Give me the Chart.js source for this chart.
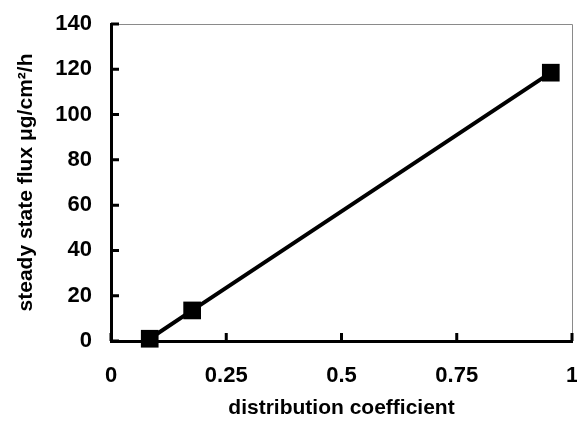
<!DOCTYPE html>
<html>
<head>
<meta charset="utf-8">
<script src="https://cdn.jsdelivr.net/npm/chart.js@4"></script>
<style>
  html, body { margin: 0; padding: 0; background: #fff; }
  #wrap { width: 577px; height: 426px; position: relative; }
</style>
</head>
<body>
<div id="wrap"><canvas id="myChart" width="577" height="426"></canvas></div>
<script>
// data
const distCoef = [0.084, 0.176, 0.954];
const fluxValues = [1, 13.5, 118.5];
const xTicks = [0, 0.25, 0.5, 0.75, 1];
const yTicks = [0, 20, 40, 60, 80, 100, 120, 140];

const points = distCoef.map((x, i) => ({ x: x, y: fluxValues[i] }));
const font = { family: "'Liberation Sans', Arial, sans-serif", size: 21, weight: 'bold' };
const tickFont = { family: "'Liberation Sans', Arial, sans-serif", size: 22, weight: 'bold' };

// ticks drawn inward plus thin frame on top and right
const frame = {
  id: 'frame',
  beforeDatasetsDraw(chart) {
    const { ctx, chartArea: a, scales } = chart;
    ctx.save();
    ctx.strokeStyle = '#8a8a8a';
    ctx.lineWidth = 1;
    ctx.beginPath();
    ctx.moveTo(a.left, a.top + 0.5);
    ctx.lineTo(a.right + 0.5, a.top + 0.5);
    ctx.lineTo(a.right + 0.5, a.bottom);
    ctx.stroke();

    ctx.strokeStyle = '#000';
    ctx.lineWidth = 3;
    ctx.beginPath();
    yTicks.forEach(v => {
      const y = scales.y.getPixelForValue(v);
      ctx.moveTo(a.left, y);
      ctx.lineTo(a.left + 8, y);
    });
    xTicks.forEach(v => {
      const x = scales.x.getPixelForValue(v);
      ctx.moveTo(x, a.bottom);
      ctx.lineTo(x, a.bottom - 8);
    });
    ctx.stroke();
    ctx.restore();
  }
};

new Chart(document.getElementById('myChart'), {
  type: 'scatter',
  data: {
    datasets: [{
      data: points,
      showLine: true,
      borderColor: '#000',
      backgroundColor: '#000',
      borderWidth: 4,
      pointStyle: 'rect',
      pointRadius: 12.5,
      pointHoverRadius: 12.5,
      pointBorderWidth: 0,
      tension: 0,
      clip: false
    }]
  },
  options: {
    responsive: false,
    animation: false,
    layout: { autoPadding: false, padding: { left: 0, right: 5, top: 24, bottom: 0 } },
    plugins: { legend: { display: false }, tooltip: { enabled: false } },
    scales: {
      x: {
        type: 'linear',
        min: 0,
        max: 1,
        afterBuildTicks: s => { s.ticks = xTicks.map(v => ({ value: v })); },
        afterFit: s => { s.height = 85; s.paddingLeft = 0; s.paddingRight = 0; },
        grid: { display: false, drawTicks: false },
        border: { display: true, color: '#000', width: 3 },
        ticks: { color: '#000', font: tickFont, padding: 22, maxRotation: 0,
                 callback: v => String(v) },
        title: { display: true, text: 'distribution coefficient', color: '#000',
                 font: font, padding: { top: 0, bottom: 5 } }
      },
      y: {
        type: 'linear',
        min: 0,
        max: 140,
        afterBuildTicks: s => { s.ticks = yTicks.map(v => ({ value: v })); },
        afterFit: s => { s.width = 111; s.paddingTop = 0; s.paddingBottom = 0; },
        grid: { display: false, drawTicks: false },
        border: { display: true, color: '#000', width: 3 },
        ticks: { color: '#000', font: tickFont, padding: 19 },
        title: { display: true, text: 'steady state flux μg/cm²/h', color: '#000',
                 font: font, padding: { top: 14, bottom: 0 } }
      }
    }
  },
  plugins: [frame]
});
</script>
</body>
</html>
